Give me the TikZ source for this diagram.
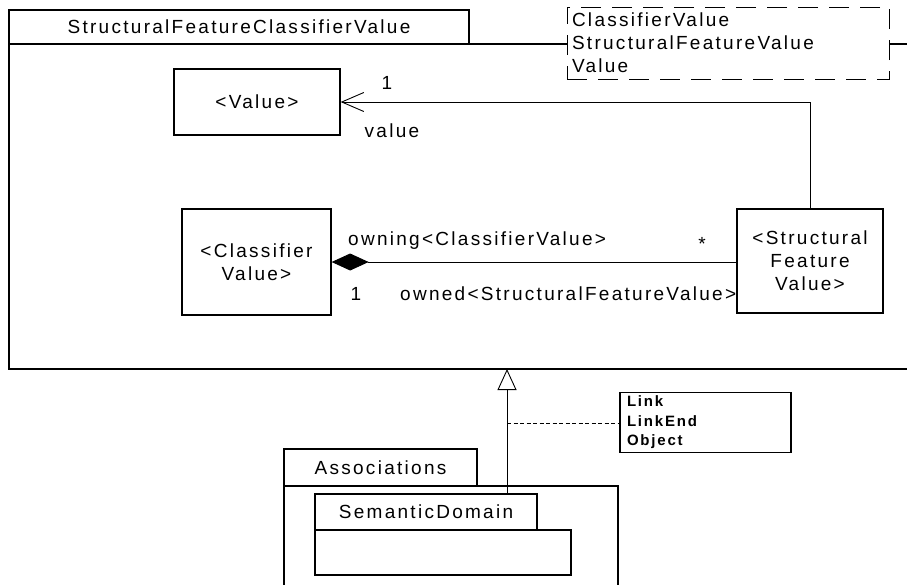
\documentclass[tikz,border=0pt]{standalone}
\usepackage{fontspec}
\setmainfont{Liberation Sans}[LetterSpace=12]
\usetikzlibrary{arrows.meta, positioning}
\newcommand{\umlfont}{\fontsize{19}{23}\selectfont}
\newcommand{\notefont}{\fontsize{15}{19.5}\selectfont\bfseries}
\tikzset{
  umlbox/.style={draw, line width=1.3pt, fill=white, align=center, inner sep=0pt, font=\umlfont},
  tabbox/.style={draw, line width=1.1pt, fill=white, inner sep=0pt, font=\umlfont},
  lbl/.style={inner sep=0pt, font=\umlfont},
  conn/.style={line width=0.9pt},
}

\begin{document}
\begin{tikzpicture}[x=1pt, y=-1pt]
  \useasboundingbox (0,0) rectangle (907,584);
  \clip (0,0) rectangle (907,584);

  % ===== package StructuralFeatureClassifierValue =====
  \draw[line width=1.6pt] (9,44) rectangle (915,369);
  \node[tabbox, minimum width=460pt, minimum height=34pt] (maintab) at (239,27) {StructuralFeatureClassifierValue};

  % imported elements
  \node[draw, line width=1pt, dash pattern=on 20pt off 11pt, fill=white, minimum width=322pt, minimum height=72pt,
        text width=312pt, align=left, inner xsep=5pt, font=\umlfont] (imports) at (728,43)
        {ClassifierValue\\StructuralFeatureValue\\Value};

  % classes
  \node[umlbox, minimum width=166pt, minimum height=66pt] (value) at (257,102) {<Value>};
  \node[umlbox, minimum width=149pt, minimum height=106pt] (cv) at (256.5,262) {<Classifier\\Value>};
  \node[umlbox, minimum width=146pt, minimum height=104pt] (sfv) at (810,261) {<Structural\\Feature\\Value>};

  % association value
  \draw[conn, -{Straight Barb[length=22pt, width=19pt]}] (sfv.north) |- (value.east);
  \node[lbl] (valuemult) at (387,83) {1};
  \node[lbl] (valuerole) at (392,131) {value};

  % composition owning / owned
  \draw[conn, {Diamond[length=37pt, width=17pt]}-] (cv.east) -- (cv.east -| sfv.west);
  \node[lbl, anchor=west] (owningrole) at (348,241) {owning<ClassifierValue>};
  \node[lbl] (ownedmult) at (702,244) {*};
  \node[lbl] (owningmult) at (356,294) {1};
  \node[lbl, anchor=west] (ownedrole) at (400,294) {owned<StructuralFeatureValue>};

  % ===== package Associations =====
  \draw[line width=1.1pt] (284,486) rectangle (618,600);
  \node[tabbox, minimum width=193pt, minimum height=37pt] (assoctab) at (380.5,467.5) {Associations};
  \draw[line width=1.1pt] (315,530) rectangle (571,575);
  \node[tabbox, minimum width=222pt, minimum height=36pt] (sdtab) at (426,512) {SemanticDomain};

  % generalization
  \coordinate (genhead) at (507,369);
  \draw[conn, -{Triangle[length=21pt, width=19pt, fill=white]}] (sdtab.north -| genhead) -- (genhead);

  % note on the generalization
  \node[draw, line width=1.3pt, minimum width=171pt, minimum height=59pt, text width=157pt, align=left,
        inner xsep=7pt, font=\notefont] (link) at (705.5,422.5) {Link\\LinkEnd\\Object};
  \coordinate (linkfoot) at (507,423);
  \draw[conn, dash pattern=on 4pt off 2.5pt] (linkfoot) -- (linkfoot -| link.west);
\end{tikzpicture}
\end{document}
